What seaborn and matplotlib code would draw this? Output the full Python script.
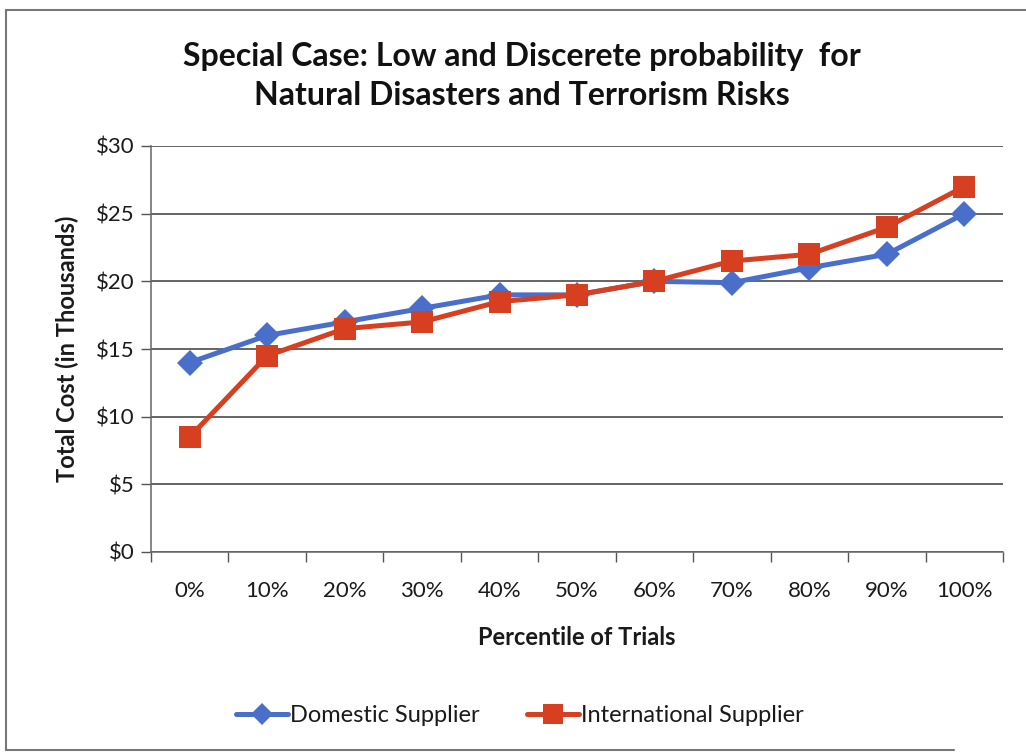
import matplotlib
matplotlib.use("Agg")
import matplotlib.pyplot as plt
import seaborn as sns
import pandas as pd
from matplotlib.ticker import FixedLocator, FuncFormatter
from matplotlib.lines import Line2D

# Percentile buckets and total cost per supplier (in thousands of dollars)
percentiles = ["0%", "10%", "20%", "30%", "40%", "50%", "60%", "70%", "80%", "90%", "100%"]
domestic = [14, 16, 17, 18, 19, 19, 20, 19.9, 21, 22, 25]
international = [8.5, 14.5, 16.5, 17, 18.5, 19, 20, 21.5, 22, 24, 27]
series_names = ["Domestic Supplier", "International Supplier"]
y_ticks = [0, 5, 10, 15, 20, 25, 30]

blue = "#4A6FCB"
red = "#D63F1F"

df = pd.DataFrame({
    "Percentile": percentiles * 2,
    "Cost": domestic + international,
    "Supplier": [series_names[0]] * len(percentiles) + [series_names[1]] * len(percentiles),
})

sns.set_theme(style="white")
plt.rcParams["font.family"] = ["Lato", "DejaVu Sans"]

fig = plt.figure(figsize=(10.26, 7.53), dpi=100)
ax = fig.add_axes([151 / 1026, 1 - 552 / 753, (1003 - 151) / 1026, (552 - 146) / 753])

sns.lineplot(
    data=df, x="Percentile", y="Cost", hue="Supplier", style="Supplier",
    palette=[blue, red], markers=["D", "s"], dashes=False,
    linewidth=3.6, markersize=14, markeredgewidth=0, sort=False,
    legend=False, ax=ax,
)
# the square markers read a bit larger than the diamonds
for line, ms in zip(ax.get_lines(), [13, 16]):
    line.set_markersize(ms)

ax.set_xlim(-0.5, len(percentiles) - 0.5)
ax.set_ylim(0, 30)
ax.set_yticks(y_ticks)
ax.yaxis.set_major_formatter(FuncFormatter(lambda v, p: f"${v:.0f}"))
ax.grid(axis="y", color="#3a3a3a", linewidth=1.1)
ax.set_axisbelow(True)

ax.set_xticks(range(len(percentiles)))
ax.set_xticklabels(percentiles)
ax.xaxis.set_minor_locator(FixedLocator([i - 0.5 for i in range(len(percentiles) + 1)]))
ax.tick_params(axis="x", which="major", length=0, pad=21, labelsize=16, colors="#1a1a1a")
ax.tick_params(axis="x", which="minor", length=7, width=1, color="#555555", bottom=True)
ax.tick_params(axis="y", which="major", length=7, width=1, color="#555555", left=True,
               labelsize=16, pad=5, labelcolor="#1a1a1a")

for side in ["top", "right"]:
    ax.spines[side].set_visible(False)
for side in ["left", "bottom"]:
    ax.spines[side].set_color("#666666")
    ax.spines[side].set_linewidth(1.1)

ax.set_xlabel("Percentile of Trials", fontsize=17, fontweight="bold", color="#1a1a1a", labelpad=18)
ax.set_ylabel("Total Cost (in Thousands)", fontsize=17, fontweight="bold", color="#1a1a1a", labelpad=12)

fig.text(522 / 1026, 1 - 76 / 753,
         "Special Case: Low and Discerete probability  for\nNatural Disasters and Terrorism Risks",
         ha="center", va="center", fontsize=23, fontweight="bold", color="#111111",
         linespacing=1.45)

handles = [
    Line2D([], [], color=blue, marker="D", linewidth=3.6, markersize=11, markeredgewidth=0),
    Line2D([], [], color=red, marker="s", linewidth=3.6, markersize=14, markeredgewidth=0),
]
fig.legend(handles, series_names, loc="center", bbox_to_anchor=(520 / 1026, 1 - 716 / 753),
           ncol=2, frameon=False, fontsize=17, handlelength=2.2, handletextpad=0.1,
           columnspacing=2.0, labelcolor="#1a1a1a")

# outer chart frame
frame_kw = dict(color="#777777", linewidth=1.5, transform=fig.transFigure)
fig.add_artist(Line2D([6 / 1026, 6 / 1026], [1 - 10 / 753, 1 - 750 / 753], **frame_kw))
fig.add_artist(Line2D([6 / 1026, 1.0], [1 - 10 / 753, 1 - 10 / 753], **frame_kw))
fig.add_artist(Line2D([6 / 1026, 0.93], [1 - 750 / 753, 1 - 750 / 753], **frame_kw))

fig.savefig("out.png", dpi=100, facecolor="white")
